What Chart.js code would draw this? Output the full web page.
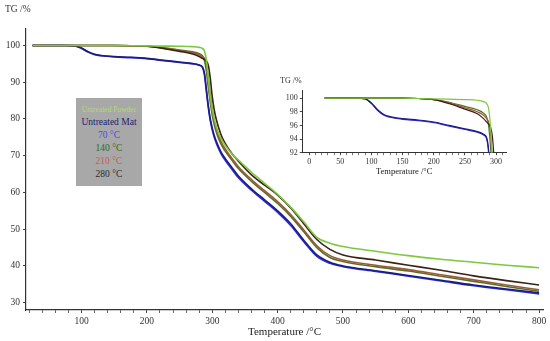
<!DOCTYPE html>
<html><head><meta charset="utf-8">
<script src="https://cdn.jsdelivr.net/npm/chart.js@4.4.0/dist/chart.umd.min.js"></script>
<style>
html,body{margin:0;padding:0;background:#fff;}
#wrap{position:relative;width:550px;height:341px;overflow:hidden;font-family:"Liberation Serif",serif;}
#main{position:absolute;left:0;top:0;}
#inset{position:absolute;left:270px;top:72px;}
.lbl{position:absolute;white-space:nowrap;color:#333;line-height:1;}
#legend{position:absolute;left:76px;top:98px;width:66px;height:88px;background:#a8a8a8;text-align:center;font-size:9.5px;line-height:12.9px;padding-top:5.5px;box-sizing:border-box;}
#legend div{white-space:nowrap;}
</style></head>
<body>
<div id="wrap">
<canvas id="main" width="550" height="341"></canvas>
<canvas id="inset" width="250" height="105"></canvas>
<div class="lbl" style="left:5px;top:5px;font-size:9.5px;">TG /%</div>
<div class="lbl" style="left:280px;top:76.5px;font-size:8px;">TG /%</div>
<div id="legend"></div>
</div>
<script>
// ---- data ----
const temps  = [25, 50, 75, 90, 100, 110, 120, 130, 150, 175, 200, 225, 250, 270, 280, 285, 288, 291, 294, 297, 300, 303, 306, 310, 315, 320, 330, 340, 360, 380, 400, 420, 440, 460, 480, 500, 550, 600, 650, 700, 750, 800];
const powder = [100, 100, 100, 100, 100, 100, 100, 100, 100, 99.95, 99.9, 99.85, 99.8, 99.7, 99.5, 99.2, 98.5, 96, 91, 86, 82.5, 80, 78, 76, 74.2, 72.8, 70.5, 68.8, 65.5, 62.5, 59.5, 56, 52, 47.8, 46.2, 45.3, 44.0, 42.8, 41.8, 41.0, 40.2, 39.5];
const mat    = [100, 100, 100, 99.9, 99.3, 98.3, 97.6, 97.3, 97.0, 96.8, 96.5, 96.0, 95.5, 95.1, 94.7, 94.2, 92.5, 88, 83.5, 80, 77.5, 75.5, 74, 72.3, 70.5, 69.2, 66.8, 64.5, 61, 58, 55, 51.5, 47, 43, 41, 40, 38.7, 37.4, 36.1, 34.8, 33.7, 32.7];
const t70    = [100, 100, 100, 99.9, 99.2, 98.2, 97.5, 97.2, 96.9, 96.7, 96.4, 95.9, 95.4, 95.0, 94.6, 94.0, 92.0, 87.5, 83, 79.5, 77, 75, 73.5, 71.8, 70, 68.7, 66.3, 64, 60.6, 57.6, 54.6, 51, 46.6, 42.6, 40.7, 39.8, 38.5, 37.2, 35.9, 34.6, 33.5, 32.4];
const t140   = [100, 100, 100, 100, 100, 100, 100, 100, 100, 99.95, 99.8, 99.4, 98.8, 98.3, 97.8, 97.2, 96, 93, 88.5, 84.5, 81, 78.5, 76.5, 74.5, 72.6, 71.2, 68.8, 66.5, 63, 60, 57, 53.5, 49.3, 45, 42.3, 41.2, 39.8, 38.6, 37.2, 35.8, 34.4, 33.1];
const t210   = [100, 100, 100, 100, 100, 100, 100, 100, 100, 99.95, 99.8, 99.3, 98.6, 98.0, 97.5, 97.0, 96.5, 95, 91, 86.5, 82.5, 79.5, 77.3, 75.2, 73.2, 71.8, 69.3, 67, 63.5, 60.5, 57.5, 54, 49.8, 45.5, 42.8, 41.6, 40.2, 39.0, 37.6, 36.2, 34.8, 33.5];
const t280   = [100, 100, 100, 100, 100, 100, 100, 100, 100, 99.95, 99.8, 99.2, 98.4, 97.7, 97.0, 96.5, 96.2, 95.8, 94.5, 91, 86, 82.5, 80, 77.5, 75, 73.3, 70.6, 68.5, 64.8, 62, 59.3, 55.8, 51.5, 47.2, 44.5, 43, 41.6, 40.2, 38.8, 37.3, 36, 34.8];
const seriesNames = ['Untreated Powder', 'Untreated Mat', '70 °C', '140 °C', '210 °C', '280 °C'];
const xMajorTicks = [100, 200, 300, 400, 500, 600, 700, 800];
const yMajorTicks = [30, 40, 50, 60, 70, 80, 90, 100];
const insetXTicks = [0, 50, 100, 150, 200, 250, 300];
const insetYTicks = [92, 94, 96, 98, 100];

// ---- styles ----
const lineColors   = ['#7cc83e', '#1c1c7a', '#2b2be6', '#56702a', '#9c5a34', '#3a2216'];
const legendColors = ['#b9d77a', '#22226e', '#4a4ae0', '#2f6a1c', '#c95a5a', '#2a2a2a'];
const seriesData = [powder, mat, t70, t140, t210, t280];
const drawOrder = [0, 5, 4, 3, 1, 2];

const leg = document.getElementById('legend');
seriesNames.forEach((n, i) => {
  const d = document.createElement('div');
  d.textContent = n;
  d.style.color = legendColors[i];
  if (i === 0) d.style.fontSize = '7.5px';
  leg.appendChild(d);
});

function makeDatasets(w) {
  return drawOrder.map(i => ({
    label: seriesNames[i],
    data: temps.map((t, k) => ({x: t, y: seriesData[i][k]})),
    borderColor: lineColors[i],
    borderWidth: w,
    pointRadius: 0,
    fill: false,
    cubicInterpolationMode: 'monotone'
  }));
}
function range(a, b, s) { const r = []; for (let v = a; v <= b + 1e-9; v += s) r.push(Math.round(v * 100) / 100); return r; }

const font = 'Liberation Serif';
const tickCol = '#444';

new Chart(document.getElementById('main'), {
  type: 'line',
  data: {datasets: makeDatasets(1.6)},
  options: {
    responsive: false, animation: false, devicePixelRatio: 1,
    layout: {padding: {top: 29, right: 7, left: 0, bottom: 0}},
    plugins: {legend: {display: false}, tooltip: {enabled: false}},
    scales: {
      x: {
        type: 'linear', min: 15, max: 806,
        afterFit: s => { s.height = 31; },
        afterBuildTicks: s => { s.ticks = range(20, 800, 20).map(v => ({value: v})); },
        ticks: {autoSkip: false, maxRotation: 0, padding: 3, color: '#333', font: {family: font, size: 9.5},
          callback: v => xMajorTicks.includes(v) ? String(v) : ''},
        grid: {drawOnChartArea: false, drawTicks: true, tickLength: 3,
          tickColor: c => xMajorTicks.includes(c.tick && c.tick.value) ? tickCol : '#666'},
        border: {display: true, color: '#333', width: 1.2},
        title: {display: true, text: 'Temperature /°C', color: '#222', font: {family: font, size: 11}, padding: {top: 0, bottom: 2}}
      },
      y: {
        type: 'linear', min: 28, max: 104.5,
        afterFit: s => { s.width = 26; },
        afterBuildTicks: s => { s.ticks = range(30, 104, 2).map(v => ({value: v})); },
        ticks: {autoSkip: false, padding: 3, color: '#333', font: {family: font, size: 9.5},
          callback: v => yMajorTicks.includes(v) ? String(v) : ''},
        grid: {drawOnChartArea: false, drawTicks: true, tickLength: 3,
          tickColor: c => yMajorTicks.includes(c.tick && c.tick.value) ? tickCol : 'rgba(0,0,0,0)'},
        border: {display: true, color: '#333', width: 1.2}
      }
    }
  }
});

new Chart(document.getElementById('inset'), {
  type: 'line',
  data: {datasets: makeDatasets(1.2)},
  options: {
    responsive: false, animation: false, devicePixelRatio: 1,
    layout: {padding: {top: 18, right: 14, left: 0, bottom: 0}},
    plugins: {legend: {display: false}, tooltip: {enabled: false}},
    scales: {
      x: {
        type: 'linear', min: -11, max: 316,
        afterFit: s => { s.height = 24.3; },
        afterBuildTicks: s => { s.ticks = range(0, 310, 10).map(v => ({value: v})); },
        ticks: {autoSkip: false, maxRotation: 0, padding: 2, color: '#333', font: {family: font, size: 8},
          callback: v => insetXTicks.includes(v) ? String(v) : ''},
        grid: {drawOnChartArea: false, drawTicks: true, tickLength: 2.5,
          tickColor: c => insetXTicks.includes(c.tick && c.tick.value) ? tickCol : '#777'},
        border: {display: true, color: '#333', width: 1},
        title: {display: true, text: 'Temperature /°C', color: '#222', font: {family: font, size: 8.5}, padding: {top: 0, bottom: 0}}
      },
      y: {
        type: 'linear', min: 92, max: 101.2,
        afterFit: s => { s.width = 32.3; },
        afterBuildTicks: s => { s.ticks = insetYTicks.map(v => ({value: v})); },
        ticks: {autoSkip: false, padding: 2, color: '#333', font: {family: font, size: 8},
          callback: v => insetYTicks.includes(v) ? String(v) : ''},
        grid: {drawOnChartArea: false, drawTicks: true, tickLength: 2.5, tickColor: tickCol},
        border: {display: true, color: '#333', width: 1}
      }
    }
  }
});
</script>
</body></html>
